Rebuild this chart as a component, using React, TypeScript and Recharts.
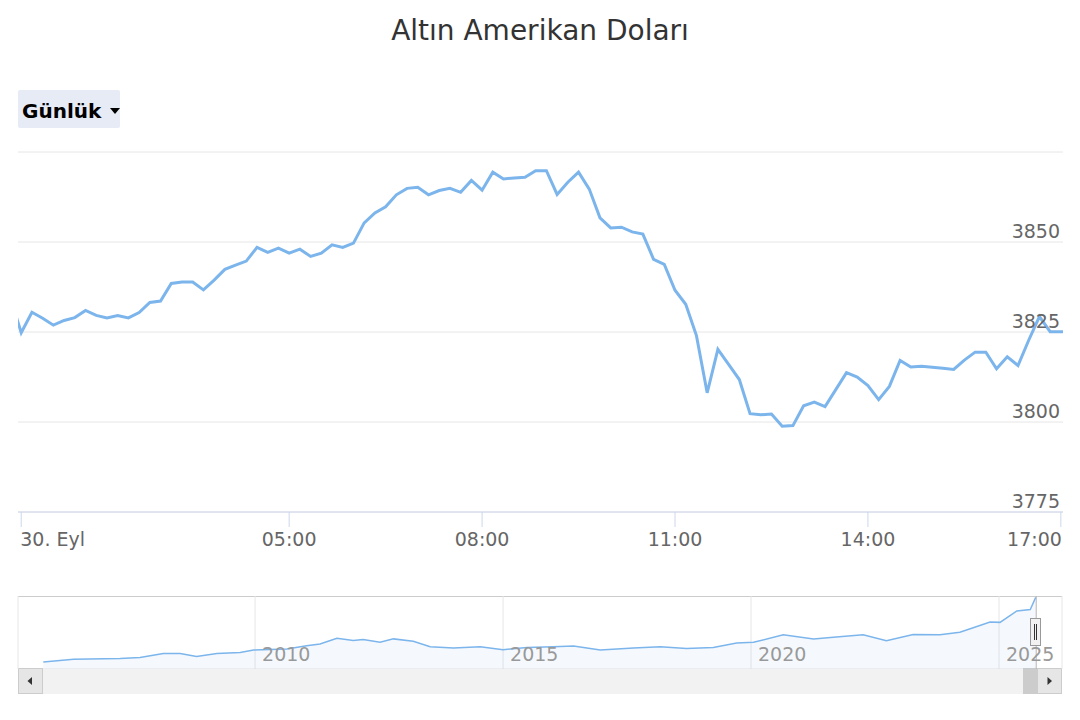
import React from "react";
import { LineChart, Line, XAxis, YAxis, CartesianGrid, AreaChart, Area, ReferenceLine } from "recharts";

const FONT = '"DejaVu Sans", Verdana, sans-serif';

// intraday samples every 10 minutes, first one at 00:40 (just left of the visible range)
const START_MINUTE = 40;
const STEP_MINUTES = 10;

const pricesNight = [
  3834.5, 3824.8, 3830.5, 3828.8, 3826.9, 3828.2, 3829.0, 3831.0, 3829.6, 3828.9,
  3829.6, 3828.9, 3830.4, 3833.2, 3833.6, 3838.5, 3838.9, 3838.9, 3836.7, 3839.4,
  3842.4, 3843.6, 3844.7, 3848.5, 3847.1, 3848.3, 3846.9, 3848.0, 3846.0, 3846.9,
  3849.2, 3848.5, 3849.7,
];
const pricesMorning = [
  3855.3, 3858.1, 3859.8, 3863.1, 3864.9, 3865.2, 3863.1, 3864.3, 3864.9, 3863.8,
  3867.1, 3864.4, 3869.4, 3867.5, 3867.8, 3868.0, 3869.8, 3869.8, 3863.2, 3866.6,
  3869.4, 3864.7, 3856.7, 3853.9, 3854.1, 3852.8, 3852.2, 3845.2, 3843.8, 3836.6,
  3832.7, 3824.0, 3808.1,
];
const pricesAfternoon = [
  3820.2, 3816.0, 3811.8, 3802.3, 3802.0, 3802.2, 3798.8, 3799.0, 3804.5, 3805.5,
  3804.3, 3809.0, 3813.7, 3812.5, 3810.1, 3806.2, 3809.9, 3817.1, 3815.3, 3815.5,
  3815.2, 3814.9, 3814.6, 3817.2, 3819.4, 3819.4, 3814.8, 3818.1, 3815.7, 3822.7,
  3829.3, 3825.1, 3825.1, 3825.1,
];

const xTicks = [50, 300, 480, 660, 840, 1020];
const xTickLabels = ["30. Eyl", "05:00", "08:00", "11:00", "14:00", "17:00"];
const yTicks = [3775, 3800, 3825, 3850, 3875];

// navigator: long-term history
const navYears = [
  2005.73, 2006.34, 2007.28, 2007.68, 2008.15, 2008.49, 2008.82, 2009.23, 2009.7, 2009.97,
  2010.64, 2011.04, 2011.31, 2011.65, 2011.98, 2012.18, 2012.52, 2012.79, 2013.19, 2013.53,
  2014.0, 2014.54, 2015.0, 2015.48, 2016.01, 2016.42, 2016.96, 2017.63, 2018.17, 2018.7,
  2019.24, 2019.71, 2020.05, 2020.65, 2021.26, 2021.66, 2022.26, 2022.73, 2023.27, 2023.81,
  2024.21, 2024.48, 2024.82, 2025.02, 2025.36, 2025.63, 2025.74,
];
const navPrices = [
  470, 613, 644, 697, 908, 908, 750, 908, 961, 1088,
  1141, 1315, 1405, 1700, 1579, 1632, 1489, 1669, 1542, 1262,
  1193, 1262, 1104, 1225, 1262, 1299, 1088, 1193, 1262, 1172,
  1225, 1457, 1489, 1880, 1669, 1753, 1880, 1579, 1896, 1880,
  2017, 2249, 2545, 2529, 3126, 3200, 3833,
];
const navTicks = [2010, 2015, 2020, 2025];

const intraday = [...pricesNight, ...pricesMorning, ...pricesAfternoon].map((price, i) => ({
  t: START_MINUTE + i * STEP_MINUTES,
  price,
}));
const history = navYears.map((year, i) => ({ year, price: navPrices[i] }));

const TimeTick = (props: any) => {
  const { x, y, payload } = props;
  const i = xTicks.indexOf(payload.value);
  const last = xTicks.length - 1;
  const anchor = i === 0 ? "start" : i === last ? "end" : "middle";
  return (
    <text x={x + (i === 0 ? -1 : i === last ? 1 : 0)} y={y} dy="0.71em" textAnchor={anchor} fill="#666666" fontSize={19} fontFamily={FONT}>
      {xTickLabels[i]}
    </text>
  );
};

const PriceTick = (props: any) => {
  const { x, y, payload } = props;
  if (payload.value === 3875) return null;
  return (
    <text x={x} y={y - 4} textAnchor="end" fill="#666666" fontSize={19} fontFamily={FONT}>
      {payload.value}
    </text>
  );
};

const YearTick = (props: any) => {
  const { x, y, payload } = props;
  return (
    <text x={x + 7} y={y - 8} textAnchor="start" fill="#999999" fontSize={19} fontFamily={FONT}>
      {payload.value}
    </text>
  );
};

export default function App() {
  return (
    <div style={{ position: "absolute", left: 0, top: 0, width: 1080, height: 720, background: "#fff", fontFamily: FONT }}>
      <svg width={1080} height={720} style={{ position: "absolute", left: 0, top: 0 }}>
        <text x={540} y={40} textAnchor="middle" fontSize={28} fill="#333333" fontFamily={FONT}>
          Altın Amerikan Doları
        </text>
        <rect x={18} y={90} width={102} height={38} rx={2} fill="#e6ebf5" />
        <text x={22} y={118} fontSize={20} fontWeight="bold" fill="#000" fontFamily={FONT}>
          Günlük
        </text>
        <path d="M110 108 L120 108 L115 114 Z" fill="#000" />
        {/* scrollbar */}
        <rect x={18} y={668} width={1044} height={26} fill="#f2f2f2" />
        <rect x={18.5} y={668.5} width={24} height={25} fill="#e6e6e6" stroke="#cccccc" />
        <path d="M32 677 L32 685 L27.5 681 Z" fill="#333" />
        <rect x={1023} y={668} width={15} height={26} fill="#cccccc" />
        <rect x={1037.5} y={668.5} width={24} height={25} fill="#e6e6e6" stroke="#cccccc" />
        <path d="M1047.5 677 L1047.5 685 L1052 681 Z" fill="#333" />
        <line x1={18} x2={1062} y1={596.5} y2={596.5} stroke="#cccccc" />
      </svg>

      <div style={{ position: "absolute", left: 0, top: 0 }}>
        <LineChart width={1080} height={560} data={intraday} margin={{ top: 152, right: 17, bottom: 0, left: 18 }}>
          <CartesianGrid vertical={false} stroke="#e6e6e6" />
          <XAxis
            type="number"
            dataKey="t"
            domain={[47, 1022]}
            allowDataOverflow
            ticks={xTicks}
            interval={0}
            height={48}
            tick={<TimeTick />}
            tickSize={15}
            tickMargin={6}
            axisLine={{ stroke: "#ccd6eb" }}
            tickLine={{ stroke: "#ccd6eb" }}
          />
          <YAxis
            orientation="right"
            width={1}
            mirror
            domain={[3775, 3875]}
            ticks={yTicks}
            interval={0}
            axisLine={false}
            tickLine={false}
            tickSize={0}
            tickMargin={3}
            tick={<PriceTick />}
          />
          <Line type="linear" dataKey="price" stroke="#7cb5ec" strokeWidth={3} dot={false} isAnimationActive={false} />
        </LineChart>
      </div>

      <div style={{ position: "absolute", left: 0, top: 596 }}>
        <AreaChart width={1080} height={73} data={history} margin={{ top: 0, right: 18, bottom: 0, left: 18 }}>
          <CartesianGrid horizontal={false} stroke="#e6e6e6" />
          <XAxis
            type="number"
            dataKey="year"
            domain={[2005.22, 2026.27]}
            allowDataOverflow
            ticks={navTicks}
            interval={0}
            height={1}
            mirror
            axisLine={false}
            tickLine={false}
            tickSize={0}
            tickMargin={0}
            tick={<YearTick />}
          />
          <YAxis hide domain={[100, 3903]} />
          <Area
            type="linear"
            dataKey="price"
            stroke="#7cb5ec"
            strokeWidth={1.5}
            fill="#7cb5ec"
            fillOpacity={0.08}
            isAnimationActive={false}
          />
          <ReferenceLine x={2025.75} stroke="#b5b5b5" />
        </AreaChart>
      </div>

      <svg width={1080} height={720} style={{ position: "absolute", left: 0, top: 0, pointerEvents: "none" }}>
        <rect x={1030.5} y={618.5} width={10} height={27} fill="#f2f2f2" stroke="#999999" />
        <line x1={1034.5} x2={1034.5} y1={624} y2={640} stroke="#333" />
        <line x1={1036.5} x2={1036.5} y1={624} y2={640} stroke="#333" />
      </svg>
    </div>
  );
}
